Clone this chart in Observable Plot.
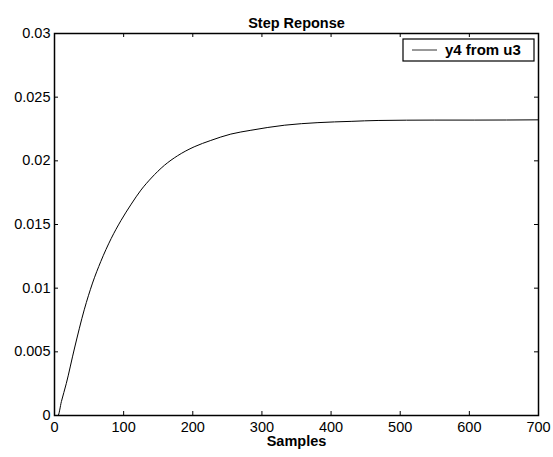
<!DOCTYPE html>
<html>
<head>
<meta charset="utf-8">
<script src="https://cdn.jsdelivr.net/npm/d3@7"></script>
<script src="https://cdn.jsdelivr.net/npm/@observablehq/plot@0.6"></script>
<style>
  html, body { margin: 0; padding: 0; background: white; }
</style>
</head>
<body>
<div id="chart"></div>
<script>
const titleText = "Step Reponse";
const xLabel = "Samples";
const seriesName = "y4 from u3";
const samples  = [0, 5, 10, 17, 29, 43, 55, 67, 82, 96, 111, 125, 140, 159, 178, 202, 226, 255, 284, 333, 381, 429, 468, 550, 607, 700];
const response = [0, 0, 0.0011, 0.0025, 0.0053, 0.0083, 0.0104, 0.0121, 0.0139, 0.0153, 0.0166, 0.0177, 0.01865, 0.01965, 0.0204, 0.0211, 0.0216, 0.0221, 0.0224, 0.0228, 0.0230, 0.0231, 0.02317, 0.0232, 0.0232, 0.02322];
const xTicks = [0, 100, 200, 300, 400, 500, 600, 700];
const yTicks = [0, 0.005, 0.01, 0.015, 0.02, 0.025, 0.03];
const yTickLabels = ["0", "0.005", "0.01", "0.015", "0.02", "0.025", "0.03"];

const data = samples.map((s, i) => ({sample: s, value: response[i]}));

const W = 553, H = 457;
const mL = 54, mR = 15, mT = 33, mB = 42;
const frameW = W - mL - mR, frameH = H - mT - mB;
const tick = 4;
const FONT = "'Liberation Sans', Arial, Helvetica, sans-serif";

const chart = Plot.plot({
  width: W, height: H,
  marginLeft: mL, marginRight: mR, marginTop: mT, marginBottom: mB,
  style: {fontFamily: FONT, fontSize: "14.5px", background: "white", color: "black"},
  x: {domain: [0, 700]},
  y: {domain: [0, 0.03]},
  marks: [
    Plot.line(data, {x: "sample", y: "value", stroke: "black", strokeWidth: 1, curve: "monotone-x"}),
    // inward ticks, MATLAB style
    Plot.tickX(xTicks, {x: d => d, insetTop: frameH - tick, stroke: "black", strokeWidth: 1}),
    Plot.tickX(xTicks, {x: d => d, insetBottom: frameH - tick, stroke: "black", strokeWidth: 1}),
    Plot.tickY(yTicks, {y: d => d, insetRight: frameW - tick, stroke: "black", strokeWidth: 1}),
    Plot.tickY(yTicks, {y: d => d, insetLeft: frameW - tick, stroke: "black", strokeWidth: 1}),
    Plot.axisX(xTicks, {tickSize: 0, tickPadding: 6, label: null, fontSize: 14.5}),
    Plot.axisY(yTicks, {tickSize: 0, tickPadding: 4, label: null, fontSize: 14.5, tickFormat: d => yTickLabels[yTicks.indexOf(d)]}),
    Plot.frame({stroke: "black", strokeWidth: 1.5}),
    Plot.text([titleText], {frameAnchor: "top", dy: -15.5, fontWeight: "bold", fontSize: 14.5, text: d => d}),
    Plot.text([xLabel], {frameAnchor: "bottom", dy: 30.5, fontWeight: "bold", fontSize: 14.5, text: d => d})
  ]
});

// Legend box (top-right inside the frame)
const svg = d3.select(chart);
const lg = svg.append("g").attr("transform", `translate(${W - mR - 135},${mT + 6})`);
lg.append("rect").attr("x", 0).attr("y", 0).attr("width", 131).attr("height", 22)
  .attr("fill", "white").attr("stroke", "black").attr("stroke-width", 1.2);
lg.append("line").attr("x1", 9).attr("x2", 34).attr("y1", 11).attr("y2", 11)
  .attr("stroke", "#333").attr("stroke-width", 1);
lg.append("text").attr("x", 42).attr("y", 11).attr("dy", "0.35em")
  .attr("text-anchor", "start")
  .attr("font-weight", "bold").attr("font-size", 15)
  .attr("font-family", FONT)
  .attr("fill", "black").text(seriesName);

document.getElementById("chart").appendChild(chart);
</script>
</body>
</html>
